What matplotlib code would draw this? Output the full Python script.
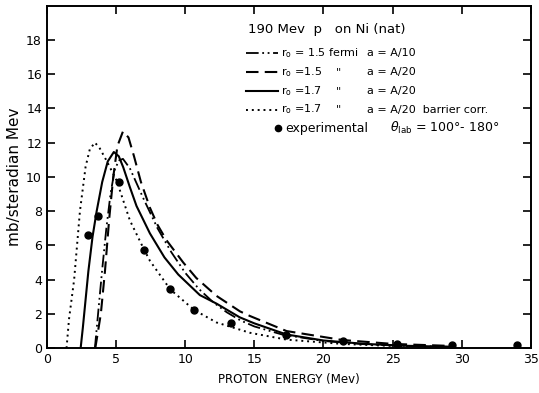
import matplotlib
matplotlib.use('Agg')
import matplotlib.pyplot as plt

# experimental points (Mev, mb/steradian Mev)
exp_e = [3.0, 3.7, 5.2, 7.0, 8.9, 10.65, 13.3, 17.3, 21.4, 25.3, 29.3, 34.0]
exp_y = [6.6, 7.7, 9.7, 5.75, 3.45, 2.25, 1.48, 0.76, 0.4, 0.27, 0.17, 0.18]

# r0 = 1.5 fermi, a = A/10 (dash-dot)
dd_e = [3.47, 3.7, 4.0, 4.3, 4.6, 4.9, 5.2, 5.5, 6.0, 6.5, 7.0, 8.0, 9.0, 10.0,
        11.0, 12.0, 13.0, 14.0, 15.0, 17.0, 20.0, 23.0, 26.0, 29.3]
dd_y = [0.0, 2.0, 4.6, 7.0, 9.0, 10.4, 10.95, 11.05, 10.5, 9.6, 8.7, 7.0, 5.6, 4.4,
        3.45, 2.7, 2.1, 1.62, 1.27, 0.8, 0.42, 0.23, 0.13, 0.08]

# r0 = 1.5, a = A/20 (dashed)
da_e = [3.5, 3.9, 4.2, 4.5, 4.8, 5.1, 5.5, 5.9, 6.3, 6.8, 7.45, 8.0, 8.65, 9.86,
        10.8, 12.27, 13.96, 14.68, 17.33, 21.35, 25.0, 29.3]
da_y = [0.0, 2.0, 4.5, 7.5, 10.0, 11.8, 12.65, 12.3, 11.2, 9.7, 8.2, 7.2, 6.3, 5.0,
        4.1, 3.05, 2.15, 1.88, 1.0, 0.48, 0.25, 0.13]

# r0 = 1.7, a = A/20 (solid)
so_e = [2.44, 2.6, 3.0, 3.3, 3.6, 4.0, 4.4, 4.84, 5.2, 5.52, 6.0, 6.48, 7.45, 8.5,
        9.5, 11.06, 12.27, 13.95, 15.0, 17.33, 20.0, 23.0, 26.0, 29.3]
so_y = [0.0, 1.2, 4.5, 6.5, 8.0, 9.7, 10.9, 11.45, 11.2, 10.56, 9.4, 8.3, 6.7, 5.3,
        4.3, 3.1, 2.6, 1.8, 1.45, 0.8, 0.45, 0.25, 0.14, 0.08]

# r0 = 1.7, a = A/20, barrier corr. (dotted)
dt_e = [1.42, 1.6, 1.97, 2.39, 2.8, 3.1, 3.47, 3.8, 4.31, 5.04, 6.0, 7.0, 7.45,
        8.92, 10.65, 12.27, 14.68, 17.33, 21.35, 25.0, 29.3]
dt_y = [0.0, 1.7, 4.0, 8.0, 10.6, 11.6, 12.0, 11.7, 10.95, 9.79, 7.46, 5.8, 5.1,
        3.43, 2.23, 1.5, 0.9, 0.5, 0.25, 0.13, 0.06]

x_ticks = [0, 5, 10, 15, 20, 25, 30, 35]
y_ticks = [0, 2, 4, 6, 8, 10, 12, 14, 16, 18]

fig = plt.figure(figsize=(5.39, 3.93), dpi=100)
ax = fig.add_axes([0.087, 0.114, 0.898, 0.872])

ax.plot(dd_e, dd_y, color='black', lw=1.3, dashes=(7, 2, 1, 2, 1, 2))
ax.plot(da_e, da_y, color='black', lw=1.5, dashes=(6, 3))
ax.plot(so_e, so_y, color='black', lw=1.5)
ax.plot(dt_e, dt_y, color='black', lw=1.4, dashes=(1, 2))
ax.plot(exp_e, exp_y, 'o', color='black', ms=5)

ax.set_xlim(0, 35)
ax.set_ylim(0, 20)
ax.set_xticks(x_ticks)
ax.set_yticks(y_ticks)
ax.tick_params(direction='in', top=True, right=True, length=6, width=1.2,
               labelsize=9)
for s in ax.spines.values():
    s.set_linewidth(1.4)

ax.set_xlabel('PROTON  ENERGY (Mev)', fontsize=8.5, labelpad=5)
ax.set_ylabel('mb/steradian Mev', fontsize=11, labelpad=3)

# legend block drawn as text, like the original figure
ax.text(0.415, 0.93, '190 Mev  p   on Ni (nat)', transform=ax.transAxes,
        fontsize=9.5, va='center')
rows = [
    ('r$_\\mathrm{o}$ = 1.5 fermi', 'a = A/10', dict(dashes=(7, 2, 1, 2, 1, 2), lw=1.3)),
    ('r$_\\mathrm{o}$ =1.5', 'a = A/20', dict(dashes=(6, 3), lw=1.5)),
    ('r$_\\mathrm{o}$ =1.7', 'a = A/20', dict(lw=1.5)),
    ('r$_\\mathrm{o}$ =1.7', 'a = A/20  barrier corr.', dict(dashes=(1, 2), lw=1.4)),
]
y0 = 0.86
for i, (r_txt, a_txt, style) in enumerate(rows):
    yy = y0 - i * 0.0545
    ax.plot([0.412, 0.478], [yy, yy], color='black', transform=ax.transAxes, **style)
    ax.text(0.483, yy, r_txt, transform=ax.transAxes, fontsize=8, va='center')
    if i > 0:
        ax.text(0.598, yy, '"', transform=ax.transAxes, fontsize=8, va='center')
    ax.text(0.662, yy, a_txt, transform=ax.transAxes, fontsize=8, va='center')
yy = y0 - 4 * 0.0545
ax.plot([0.478], [yy], 'o', color='black', ms=4.5, transform=ax.transAxes)
ax.text(0.492, yy, 'experimental', transform=ax.transAxes, fontsize=9, va='center')
ax.text(0.708, yy, r'$\theta_\mathrm{lab}$ = 100°- 180°', transform=ax.transAxes,
        fontsize=9, va='center')

fig.savefig('out.png', dpi=100)
